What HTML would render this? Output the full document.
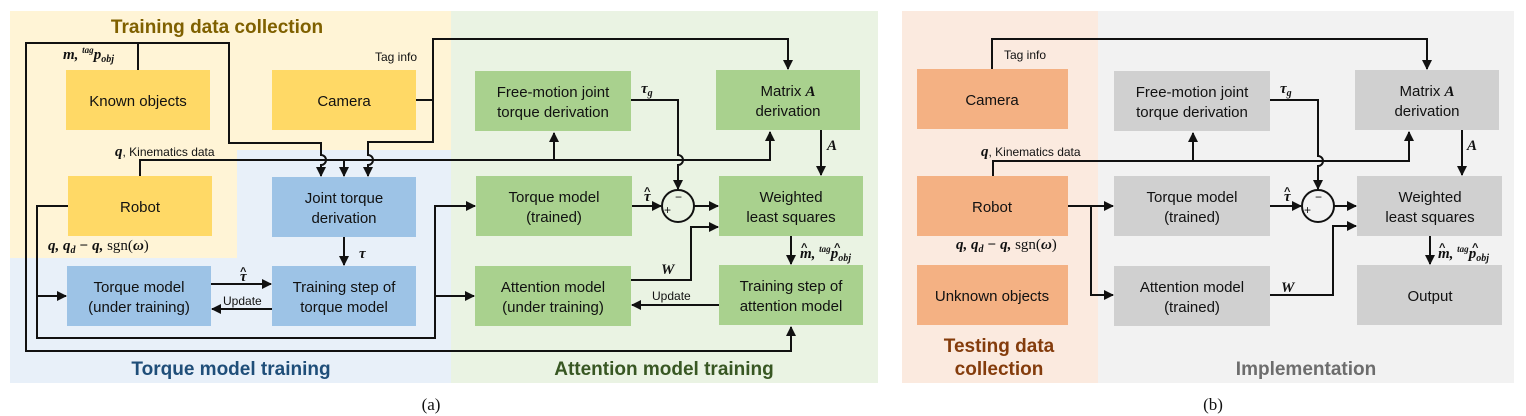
<!DOCTYPE html>
<html><head><meta charset="utf-8">
<style>
html,body{margin:0;padding:0;background:#fff;}
svg{display:block;}
.b{font-family:"Liberation Sans",sans-serif;font-size:15px;fill:#111;text-anchor:middle;}
.s{font-family:"Liberation Sans",sans-serif;font-size:12px;fill:#111;}
.m{font-family:"Liberation Serif",serif;font-style:italic;font-weight:bold;font-size:15px;fill:#111;}
.h{font-family:"Liberation Sans",sans-serif;font-weight:bold;font-size:11px;fill:#111;}
.t{font-family:"Liberation Sans",sans-serif;font-weight:bold;font-size:19px;text-anchor:middle;}
.l{fill:none;stroke:#111;stroke-width:2;}
</style></head><body>
<svg width="1526" height="416" viewBox="0 0 1526 416" xmlns="http://www.w3.org/2000/svg">
<defs>
<marker id="a" markerWidth="10" markerHeight="10" refX="9" refY="5" orient="auto" markerUnits="userSpaceOnUse">
<path d="M0,0 L10,5 L0,10 z" fill="#111"/></marker>
</defs>
<rect x="10" y="11" width="441" height="372" fill="#e8f0f9"/>
<path d="M10,11 H451 V150 H237 V258 H10 Z" fill="#fff4d6"/>
<rect x="451" y="11" width="427" height="372" fill="#eaf3e3"/>
<rect x="902" y="11" width="196" height="372" fill="#fbeadf"/>
<rect x="1098" y="11" width="416" height="372" fill="#f2f2f2"/>

<text class="t" x="217" y="33" fill="#7f6000">Training data collection</text>
<text class="t" x="231" y="375" fill="#1f4e79">Torque model training</text>
<text class="t" x="664" y="375" fill="#385723">Attention model training</text>
<text class="t" x="999" y="352" fill="#843c0c">Testing data</text>
<text class="t" x="999" y="375" fill="#843c0c">collection</text>
<text class="t" x="1306" y="375" fill="#6d6d6d">Implementation</text>

<g fill="#ffd966">
<rect x="66" y="70" width="144" height="60"/>
<rect x="272" y="70" width="144" height="60"/>
<rect x="68" y="176" width="144" height="60"/>
</g>
<g fill="#9dc3e6">
<rect x="272" y="177" width="144" height="60"/>
<rect x="67" y="266" width="144" height="60"/>
<rect x="272" y="266" width="144" height="60"/>
</g>
<g fill="#a9d18e">
<rect x="475" y="71" width="156" height="60"/>
<rect x="716" y="70" width="144" height="60"/>
<rect x="476" y="176" width="156" height="60"/>
<rect x="719" y="176" width="144" height="60"/>
<rect x="475" y="266" width="156" height="60"/>
<rect x="719" y="265" width="144" height="60"/>
</g>
<g fill="#f4b183">
<rect x="917" y="69" width="151" height="60"/>
<rect x="917" y="176" width="151" height="60"/>
<rect x="917" y="265" width="151" height="60"/>
</g>
<g fill="#d0d0d0">
<rect x="1114" y="71" width="156" height="60"/>
<rect x="1355" y="70" width="144" height="60"/>
<rect x="1114" y="176" width="156" height="60"/>
<rect x="1357" y="176" width="145" height="60"/>
<rect x="1114" y="266" width="156" height="60"/>
<rect x="1357" y="265" width="145" height="60"/>
</g>

<text class="b" x="138" y="106">Known objects</text>
<text class="b" x="344" y="106">Camera</text>
<text class="b" x="140" y="212">Robot</text>
<text class="b" x="344" y="203">Joint torque</text><text class="b" x="344" y="223">derivation</text>
<text class="b" x="139" y="292">Torque model</text><text class="b" x="139" y="312">(under training)</text>
<text class="b" x="344" y="292">Training step of</text><text class="b" x="344" y="312">torque model</text>
<text class="b" x="553" y="97">Free-motion joint</text><text class="b" x="553" y="117">torque derivation</text>
<text class="b" x="788" y="96">Matrix <tspan font-family="Liberation Serif" font-style="italic" font-weight="bold">A</tspan></text><text class="b" x="788" y="116">derivation</text>
<text class="b" x="554" y="202">Torque model</text><text class="b" x="554" y="222">(trained)</text>
<text class="b" x="791" y="202">Weighted</text><text class="b" x="791" y="222">least squares</text>
<text class="b" x="553" y="292">Attention model</text><text class="b" x="553" y="312">(under training)</text>
<text class="b" x="791" y="291">Training step of</text><text class="b" x="791" y="311">attention model</text>
<text class="b" x="992" y="105">Camera</text>
<text class="b" x="992" y="212">Robot</text>
<text class="b" x="992" y="301">Unknown objects</text>
<text class="b" x="1192" y="97">Free-motion joint</text><text class="b" x="1192" y="117">torque derivation</text>
<text class="b" x="1427" y="96">Matrix <tspan font-family="Liberation Serif" font-style="italic" font-weight="bold">A</tspan></text><text class="b" x="1427" y="116">derivation</text>
<text class="b" x="1192" y="202">Torque model</text><text class="b" x="1192" y="222">(trained)</text>
<text class="b" x="1430" y="202">Weighted</text><text class="b" x="1430" y="222">least squares</text>
<text class="b" x="1192" y="292">Attention model</text><text class="b" x="1192" y="312">(trained)</text>
<text class="b" x="1430" y="301">Output</text>

<path class="l" d="M138,70 V43 H26 V351 H791 V327" marker-end="url(#a)"/>
<path class="l" d="M138,43 H229 V143 H321 V155 a5,5 0 0 1 0,10 V176" marker-end="url(#a)"/>
<path class="l" d="M140,176 V160 H770 V132" marker-end="url(#a)"/>
<path class="l" d="M344,160 V176" marker-end="url(#a)"/>
<path class="l" d="M554,160 V133" marker-end="url(#a)"/>
<path class="l" d="M416,100 H433 V39 H788 V69" marker-end="url(#a)"/>
<path class="l" d="M433,100 V142 H368 V155 a5,5 0 0 1 0,10 V176" marker-end="url(#a)"/>
<path class="l" d="M68,206 H37 V338 H435 V206 H475" marker-end="url(#a)"/>
<path class="l" d="M37,296 H66" marker-end="url(#a)"/>
<path class="l" d="M435,296 H474" marker-end="url(#a)"/>
<path class="l" d="M344,237 V265" marker-end="url(#a)"/>
<path class="l" d="M211,284 H271" marker-end="url(#a)"/>
<path class="l" d="M272,309 H212" marker-end="url(#a)"/>
<path class="l" d="M631,100 H678 V155 a5,5 0 0 1 0,10 V189" marker-end="url(#a)"/>
<path class="l" d="M632,206 H661" marker-end="url(#a)"/>
<path class="l" d="M694,206 H718" marker-end="url(#a)"/>
<path class="l" d="M821,130 V175" marker-end="url(#a)"/>
<path class="l" d="M631,280 H691 V227 H718" marker-end="url(#a)"/>
<path class="l" d="M791,236 V264" marker-end="url(#a)"/>
<path class="l" d="M719,305 H632" marker-end="url(#a)"/>
<circle cx="678" cy="206" r="16" fill="none" stroke="#111" stroke-width="2"/>
<text class="s" x="664" y="214" font-size="13">+</text><text class="s" x="675" y="201" font-size="13">−</text>

<path class="l" d="M992,69 V39 H1427 V69" marker-end="url(#a)"/>
<path class="l" d="M993,176 V161 H1409 V132" marker-end="url(#a)"/>
<path class="l" d="M1193,161 V133" marker-end="url(#a)"/>
<path class="l" d="M1270,100 H1318 V156 a5,5 0 0 1 0,10 V189" marker-end="url(#a)"/>
<path class="l" d="M1068,206 H1113" marker-end="url(#a)"/>
<path class="l" d="M1091,206 V295 H1113" marker-end="url(#a)"/>
<path class="l" d="M1270,206 H1301" marker-end="url(#a)"/>
<path class="l" d="M1334,206 H1356" marker-end="url(#a)"/>
<path class="l" d="M1270,295 H1333 V226 H1356" marker-end="url(#a)"/>
<path class="l" d="M1462,130 V175" marker-end="url(#a)"/>
<path class="l" d="M1430,236 V264" marker-end="url(#a)"/>
<circle cx="1318" cy="206" r="16" fill="none" stroke="#111" stroke-width="2"/>
<text class="s" x="1304" y="214" font-size="13">+</text><text class="s" x="1315" y="201" font-size="13">−</text>

<!-- labels a -->
<text class="m" x="63" y="59">m, <tspan font-size="9" dy="-6">tag</tspan><tspan dy="6">p</tspan><tspan font-size="10" dy="3">obj</tspan></text>
<text class="s" x="375" y="61">Tag info</text>
<text class="m" x="115" y="156">q<tspan class="s" font-style="normal" font-weight="normal" font-family="Liberation Sans">, Kinematics data</tspan></text>
<text class="m" x="48" y="250">q, q<tspan font-size="10" dy="3">d</tspan><tspan dy="-3"> − q,  </tspan><tspan font-style="normal" font-weight="normal">sgn(</tspan>ω<tspan font-style="normal" font-weight="normal">)</tspan></text>
<text class="m" x="359" y="258">τ</text>
<text class="m" x="240" y="281">τ</text><text class="h" x="240" y="275">^</text>
<text class="s" x="223" y="305">Update</text>
<text class="m" x="641" y="93">τ<tspan font-size="10" dy="3">g</tspan></text>
<text class="m" x="644" y="201">τ</text><text class="h" x="644" y="195">^</text>
<text class="m" x="827" y="150">A</text>
<text class="m" x="661" y="274">W</text>
<text class="s" x="652" y="300">Update</text>
<text class="m" x="800" y="258" font-weight="normal">m, <tspan font-size="9" dy="-6">tag</tspan><tspan dy="6" font-weight="bold">p</tspan><tspan font-size="10" dy="3">obj</tspan></text>
<text class="h" x="801" y="251" font-weight="normal">^</text><text class="h" x="834" y="251">^</text>
<!-- labels b -->
<text class="s" x="1004" y="59">Tag info</text>
<text class="m" x="981" y="156">q<tspan class="s" font-style="normal" font-weight="normal" font-family="Liberation Sans">, Kinematics data</tspan></text>
<text class="m" x="956" y="249">q, q<tspan font-size="10" dy="3">d</tspan><tspan dy="-3"> − q,  </tspan><tspan font-style="normal" font-weight="normal">sgn(</tspan>ω<tspan font-style="normal" font-weight="normal">)</tspan></text>
<text class="m" x="1280" y="93">τ<tspan font-size="10" dy="3">g</tspan></text>
<text class="m" x="1284" y="201">τ</text><text class="h" x="1284" y="195">^</text>
<text class="m" x="1467" y="150">A</text>
<text class="m" x="1281" y="292">W</text>
<text class="m" x="1438" y="258" font-weight="normal">m, <tspan font-size="9" dy="-6">tag</tspan><tspan dy="6" font-weight="bold">p</tspan><tspan font-size="10" dy="3">obj</tspan></text>
<text class="h" x="1439" y="251" font-weight="normal">^</text><text class="h" x="1472" y="251">^</text>

<text x="431" y="410" font-family="Liberation Serif,serif" font-size="17" text-anchor="middle" fill="#111">(a)</text>
<text x="1213" y="410" font-family="Liberation Serif,serif" font-size="17" text-anchor="middle" fill="#111">(b)</text>
</svg>
</body></html>
